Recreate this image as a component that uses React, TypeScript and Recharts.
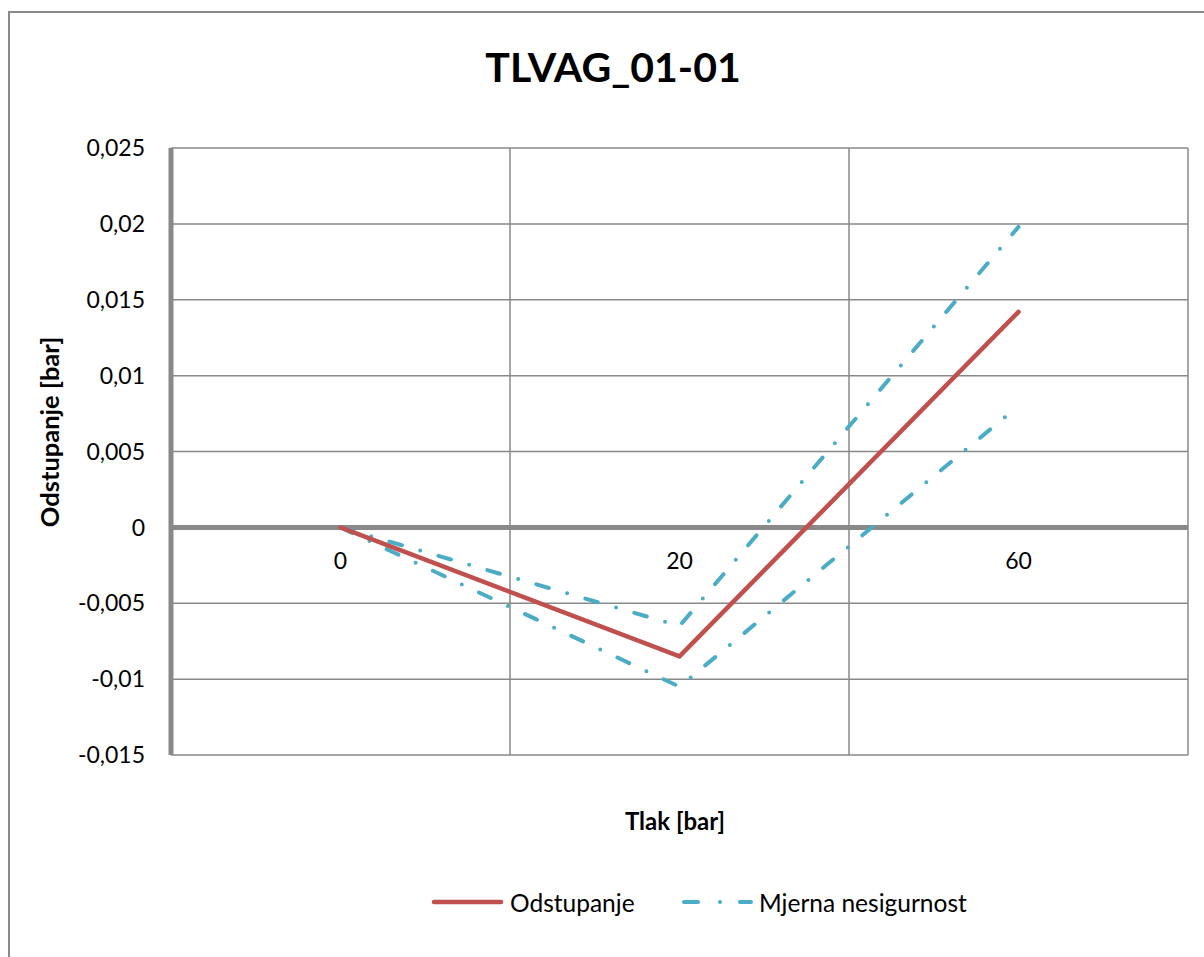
import React from 'react';
import { LineChart, Line, XAxis, YAxis, CartesianGrid, ReferenceLine, ReferenceDot, Label } from 'recharts';

const chartTitle = 'TLVAG_01-01';
const xAxisTitle = 'Tlak [bar]';
const yAxisTitle = 'Odstupanje [bar]';
const seriesNames = ['Odstupanje', 'Mjerna nesigurnost'];

const categories = ['0', '20', '60'];
const odstupanje = [0, -0.0085, 0.0142];
const gornjaGranica = [0, -0.0065, 0.0198];
const donjaGranica = [0, -0.0105, 0.008];
const yTicks = [-0.015, -0.01, -0.005, 0, 0.005, 0.01, 0.015, 0.02, 0.025];
const xBoundaryTicks = [0, 1, 2, 3];

const data = categories.map((c, i) => ({
  cat: c,
  pos: i + 0.5,
  odstupanje: odstupanje[i],
  gornja: gornjaGranica[i],
  donja: donjaGranica[i],
}));

const FONT = 'Lato, "Noto Sans", sans-serif';
const RED = '#C0504D';
const BLUE = '#4BACC6';
const GRID = '#898989';
const DASH = '13 19 0 19';

const fmt = (v: number) => String(v).replace('.', ',');

export default function App() {
  return (
    <div style={{ position: 'fixed', left: 0, top: 0, width: 1204, height: 957, overflow: 'hidden', background: '#fff' }}>
      <div
        style={{
          position: 'absolute',
          left: 8,
          top: 11,
          width: 1260,
          height: 1000,
          border: '2px solid #8a8a8a',
          boxSizing: 'border-box',
        }}
      >
        <LineChart
          width={1230}
          height={960}
          data={data}
          margin={{ top: 135, right: 52, bottom: 218, left: 61 }}
          style={{ fontFamily: FONT }}
        >
          <CartesianGrid stroke={GRID} strokeWidth={1.5} vertical={false} />
          <XAxis
            dataKey="pos"
            type="number"
            domain={[0, 3]}
            ticks={xBoundaryTicks}
            tick={false}
            axisLine={false}
            tickLine={false}
            height={0}
          />
          <YAxis
            type="number"
            domain={[-0.015, 0.025]}
            ticks={yTicks}
            tickFormatter={fmt}
            width={100}
            tickSize={0}
            tickMargin={26}
            tickLine={false}
            axisLine={{ stroke: GRID, strokeWidth: 5 }}
            tick={{ fill: '#000', fontSize: 23, fontFamily: FONT }}
            interval={0}
          >
            <Label
              content={() => (
                <text
                  x={39}
                  y={419}
                  transform="rotate(-90 39 419)"
                  textAnchor="middle"
                  dominantBaseline="central"
                  fontFamily={FONT}
                  fontWeight="bold"
                  fontSize={25.5}
                  fill="#000"
                >
                  {yAxisTitle}
                </text>
              )}
            />
          </YAxis>
          {xBoundaryTicks.slice(1).map((t) => (
            <ReferenceLine key={'v' + t} x={t} stroke={GRID} strokeWidth={1.5} />
          ))}
          <ReferenceLine y={0} stroke={GRID} strokeWidth={5} />
          {data.map((d) => (
            <ReferenceDot
              key={d.cat}
              x={d.pos}
              y={0}
              r={0}
              fill="none"
              stroke="none"
              label={{
                content: (p: any) => (
                  <text
                    x={p.viewBox.x + (p.viewBox.width || 0) / 2}
                    y={p.viewBox.y + (p.viewBox.height || 0) / 2 + 42}
                    textAnchor="middle"
                    fontFamily={FONT}
                    fontSize={23}
                    fill="#000"
                  >
                    {d.cat}
                  </text>
                ),
              }}
            />
          ))}
          <Line
            dataKey="gornja"
            stroke={BLUE}
            strokeWidth={4}
            strokeDasharray={DASH}
            strokeLinecap="round"
            dot={false}
            activeDot={false}
            isAnimationActive={false}
          />
          <Line
            dataKey="donja"
            stroke={BLUE}
            strokeWidth={4}
            strokeDasharray={DASH}
            strokeLinecap="round"
            dot={false}
            activeDot={false}
            isAnimationActive={false}
          />
          <Line
            dataKey="odstupanje"
            stroke={RED}
            strokeWidth={4.5}
            strokeLinecap="round"
            dot={false}
            activeDot={false}
            isAnimationActive={false}
          />
        </LineChart>
      </div>
      <svg width={1204} height={957} style={{ position: 'absolute', left: 0, top: 0, pointerEvents: 'none' }}>
        <text x={613} y={82} textAnchor="middle" fontFamily={FONT} fontWeight="bold" fontSize={41} fill="#000">
          {chartTitle}
        </text>
        <text x={675} y={830} textAnchor="middle" fontFamily={FONT} fontWeight="bold" fontSize={24} fill="#000">
          {xAxisTitle}
        </text>
        <line x1={434} y1={902} x2={501} y2={902} stroke={RED} strokeWidth={4.5} strokeLinecap="round" />
        <text x={510} y={902} dominantBaseline="central" fontFamily={FONT} fontSize={24.5} fill="#000">
          {seriesNames[0]}
        </text>
        <line x1={684} y1={902} x2={751} y2={902} stroke={BLUE} strokeWidth={4} strokeLinecap="round" strokeDasharray="14 22 0 20" />
        <text x={759} y={902} dominantBaseline="central" fontFamily={FONT} fontSize={24.5} fill="#000">
          {seriesNames[1]}
        </text>
      </svg>
    </div>
  );
}
